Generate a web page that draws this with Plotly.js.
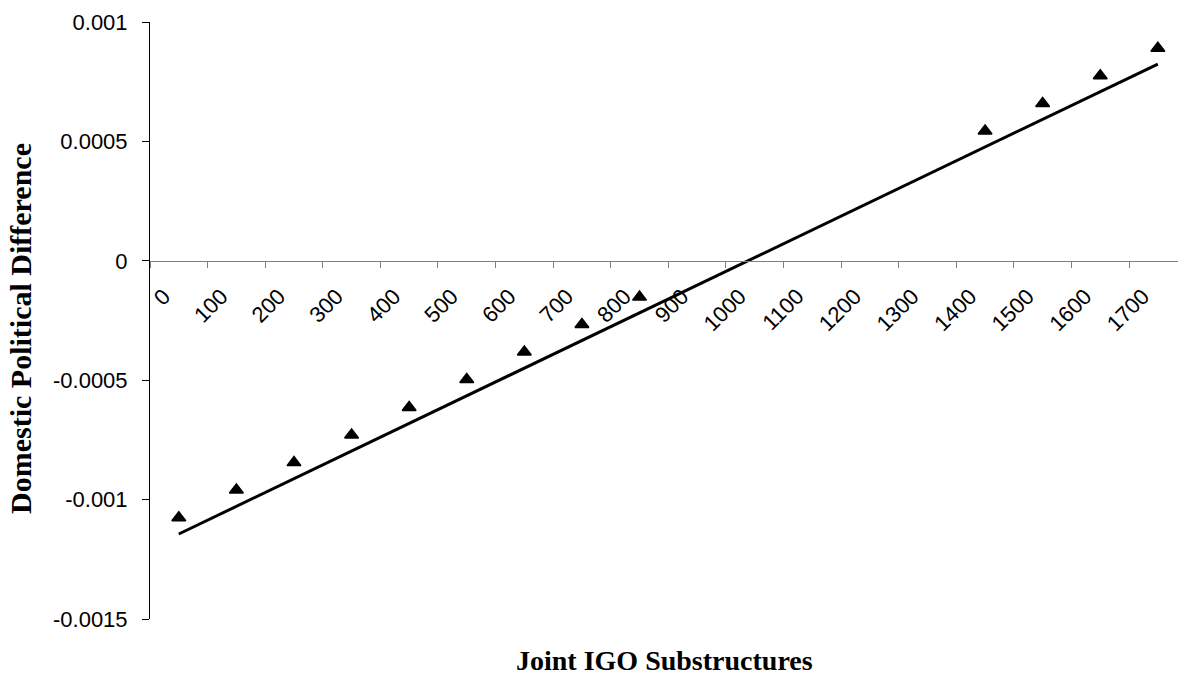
<!DOCTYPE html>
<html>
<head>
<meta charset="utf-8">
<script src="https://cdn.plot.ly/plotly-3.0.1.min.js"></script>
<style>
  html, body { margin: 0; padding: 0; background: #ffffff; }
  #chart { width: 1178px; height: 681px; }
</style>
</head>
<body>
<div id="chart"></div>
<script>
// Categories (Joint IGO Substructures)
const categories = ["0","100","200","300","400","500","600","700","800","900",
                    "1000","1100","1200","1300","1400","1500","1600","1700"];
// Observed values (Domestic Political Difference); null = no point
const values = [-0.001076, -0.000960, -0.000845, -0.000729, -0.000614, -0.000497,
                -0.000382, -0.000267, -0.000152, null, null, null, null, null,
                0.000544, 0.000659, 0.000775, 0.000890];
// Linear trend line end points
const trendX = ["0", "1700"];
const trendY = [-0.001144, 0.000824];
// Y-axis ticks
const yTickVals = [-0.0015, -0.001, -0.0005, 0, 0.0005, 0.001];
const yTickText = ["-0.0015", "-0.001", "-0.0005", "0", "0.0005", "0.001"];

const traces = [
  {
    x: trendX, y: trendY, type: "scatter", mode: "lines",
    line: { color: "#000000", width: 3 },
    hoverinfo: "skip", showlegend: false
  },
  {
    x: categories, y: values, type: "scatter", mode: "markers",
    marker: { symbol: "triangle-up", size: 12, color: "#000000",
              line: { color: "#000000", width: 1.5 } },
    showlegend: false
  }
];

const layout = {
  width: 1178, height: 681,
  margin: { l: 150, r: 0, t: 22, b: 62 },
  paper_bgcolor: "#ffffff", plot_bgcolor: "#ffffff",
  showlegend: false,
  font: { family: "Liberation Sans, Arial, sans-serif", color: "#000000", size: 22 },
  xaxis: {
    type: "category",
    categoryorder: "array",
    categoryarray: categories,
    range: [-0.5, 17.35],
    anchor: "free",
    position: 0.6,
    showline: true, linecolor: "#808080", linewidth: 1,
    ticks: "outside", ticklen: 6, tickcolor: "#808080", tickwidth: 1,
    tickson: "boundaries",
    tickmode: "linear", tick0: 0, dtick: 1,
    tickangle: -45,
    ticklabelstandoff: 13,
    ticklabelshift: -15,
    tickfont: { family: "Liberation Sans, Arial, sans-serif", size: 22, color: "#000000" },
    showgrid: false, zeroline: false,
    fixedrange: true
  },
  yaxis: {
    range: [-0.0015, 0.001],
    tickmode: "array",
    tickvals: yTickVals,
    ticktext: yTickText,
    showline: true, linecolor: "#000000", linewidth: 1,
    ticks: "outside", ticklen: 7, tickcolor: "#000000",
    ticklabelstandoff: 10,
    tickfont: { family: "Liberation Sans, Arial, sans-serif", size: 22, color: "#000000" },
    showgrid: false, zeroline: false,
    automargin: false,
    fixedrange: true
  },
  annotations: [
    {
      text: "<b>Domestic Political Difference</b>",
      xref: "paper", yref: "paper",
      x: -0.1265, y: 0.4874,
      xanchor: "center", yanchor: "middle",
      textangle: -90,
      showarrow: false,
      font: { family: "Liberation Serif, Times New Roman, serif", size: 30, color: "#000000" }
    },
    {
      text: "<b>Joint IGO Substructures</b>",
      xref: "paper", yref: "paper",
      x: 0.5, y: -0.069,
      xanchor: "center", yanchor: "middle",
      showarrow: false,
      font: { family: "Liberation Serif, Times New Roman, serif", size: 28, color: "#000000" }
    }
  ]
};

Plotly.newPlot("chart", traces, layout, { displayModeBar: false, staticPlot: true });
</script>
</body>
</html>
